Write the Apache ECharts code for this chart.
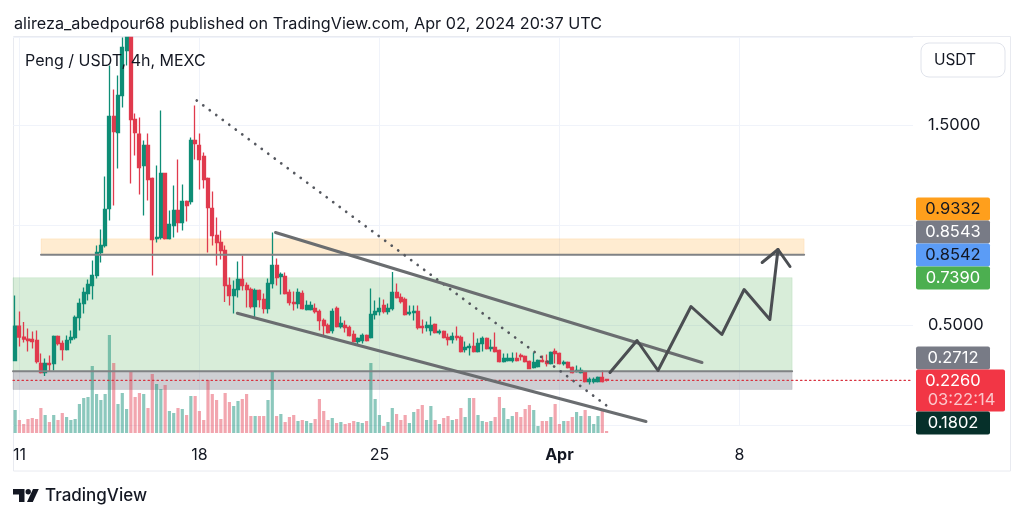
<!DOCTYPE html>
<html>
<head>
<meta charset="utf-8">
<style>
  html, body { margin: 0; background: #fff; }
  #chart { width: 1024px; height: 518px; }
</style>
<script src="https://cdn.jsdelivr.net/npm/echarts@6/dist/echarts.min.js"></script>
</head>
<body>
<div id="chart"></div>
<script>
// 4h candles, Mar 10 20:00 .. Apr 2 20:00 (tops above the pane stop at its edge)
const opens = [
  .325,.497,.442,.432,.43,.425,.31,.265,.31,.31,
  .445,.41,.38,.43,.44,.54,.61,.66,.70,.75,
  .865,.90,1.085,1.545,1.465,1.65,1.875,1.94,1.53,1.457,
  1.30,1.40,1.235,.935,.94,1.26,.935,1.0,1.075,1.015,
  1.12,1.12,1.425,1.40,1.345,1.235,1.085,.95,.915,.875,
  .70,.65,.68,.73,.70,.68,.595,.675,.63,.585,
  .71,.80,.745,.745,.665,.615,.61,.66,.58,.58,
  .585,.57,.525,.50,.475,.585,.495,.50,.49,.455,
  .42,.425,.45,.44,.555,.57,.60,.57,.585,.665,
  .64,.63,.56,.565,.57,.495,.49,.475,.505,.465,
  .47,.44,.43,.445,.44,.38,.39,.395,.37,.41,
  .435,.385,.39,.375,.32,.325,.325,.335,.35,.345,
  .32,.29,.295,.325,.32,.31,.37,.36,.31,.315,
  .29,.27,.265,.265,.22,.22,.22,.24,.23
];
const closes = [
  .497,.442,.432,.425,.42,.32,.265,.31,.305,.445,
  .41,.38,.425,.44,.54,.61,.665,.705,.75,.865,
  .90,1.08,1.545,1.47,1.65,1.89,1.94,1.53,1.465,1.29,
  1.40,1.23,.93,.94,1.26,.935,1.005,1.075,1.015,1.12,
  1.10,1.425,1.41,1.33,1.23,1.09,.95,.915,.875,.70,
  .65,.68,.73,.70,.68,.595,.675,.63,.585,.71,
  .80,.74,.755,.66,.615,.61,.665,.585,.60,.60,
  .57,.525,.50,.465,.57,.495,.51,.49,.45,.42,
  .435,.45,.425,.555,.57,.585,.57,.585,.665,.64,
  .62,.555,.565,.57,.49,.49,.50,.50,.465,.47,
  .44,.43,.445,.44,.37,.39,.395,.37,.41,.435,
  .385,.39,.37,.32,.335,.335,.335,.325,.345,.32,
  .285,.315,.325,.32,.31,.365,.36,.31,.315,.29,
  .265,.275,.275,.22,.23,.23,.24,.22,.226
];
const highs = [
  .65,.57,.517,.485,.47,.475,.36,.335,.35,.45,
  .45,.425,.45,.475,.55,.635,.69,.73,.825,.90,
  .98,1.245,1.80,1.68,1.75,1.94,1.94,1.94,1.56,1.54,
  1.425,1.46,1.24,1.30,1.575,1.26,1.075,1.20,1.33,1.205,
  1.125,1.44,1.60,1.46,1.365,1.24,1.17,1.04,.975,.90,
  .74,.725,.82,.85,.715,.69,.685,.68,.66,.735,
  .965,.835,.765,.765,.68,.67,.685,.675,.625,.62,
  .61,.58,.535,.51,.585,.595,.545,.525,.50,.475,
  .44,.46,.455,.685,.625,.64,.63,.61,.767,.71,
  .66,.64,.60,.60,.60,.53,.52,.545,.51,.48,
  .475,.46,.465,.495,.45,.42,.41,.465,.435,.445,
  .44,.43,.465,.38,.36,.36,.365,.365,.36,.35,
  .325,.365,.33,.35,.355,.37,.385,.365,.325,.32,
  .295,.30,.29,.27,.24,.24,.245,.275,.23
];
const lows = [
  .325,.395,.415,.37,.385,.31,.26,.247,.27,.275,
  .40,.325,.375,.41,.43,.475,.56,.625,.63,.735,
  .815,.89,1.025,1.10,1.285,1.59,1.8,1.21,1.35,1.155,
  1.05,1.125,.75,.915,.93,.93,.93,.94,.965,.975,
  1.02,1.105,1.33,1.18,1.185,.865,.90,.80,.83,.617,
  .60,.56,.64,.675,.59,.585,.54,.59,.56,.56,
  .685,.70,.655,.655,.60,.575,.585,.58,.575,.575,
  .56,.475,.45,.46,.46,.49,.485,.465,.445,.415,
  .405,.41,.42,.435,.53,.55,.56,.555,.575,.635,
  .61,.55,.55,.525,.48,.46,.47,.45,.46,.455,
  .435,.40,.41,.425,.365,.365,.35,.365,.365,.37,
  .38,.37,.365,.315,.315,.32,.315,.32,.325,.315,
  .285,.285,.29,.315,.295,.305,.31,.305,.30,.285,
  .26,.265,.26,.215,.205,.21,.215,.215,.22
];
const volumes = [
  23,13,9,14,15,14,25,18,11,18,
  13,20,16,13,14,29,35,36,67,39,
  33,39,98,70,29,40,24,62,36,40,
  39,25,59,49,44,48,22,20,25,24,
  18,37,37,22,13,53,39,33,14,40,
  31,27,32,34,39,17,17,17,17,33,
  62,17,19,11,16,18,12,13,12,10,
  14,34,22,13,15,10,11,9,10,12,
  11,10,12,70,34,18,7,11,25,19,
  13,18,10,21,24,28,13,27,13,9,
  15,17,13,14,25,16,35,35,18,12,
  11,12,16,36,25,14,17,21,16,24,
  28,23,7,12,12,16,29,9,12,12,
  16,21,17,23,17,9,17,23,2
];

// time axis: 210 four hour slots, week ticks
const slotCount = 210;
const tickSlots = [1, 43, 85, 127, 169];
const tickLabels = ['11', '18', '25', 'Apr', '8'];

// price axis labels that are shown
const priceLabels = [1.5, 0.5];
const lastPrice = 0.226;

// user drawings, [slot, price]
const dottedTrend = [[42.37, 1.625], [138.3, 0.095]];
const upperChannel = [[60.75, 0.965], [160.27, 0.315]];
const lowerChannel = [[51.84, 0.5615], [147.2, 0.02]];
const forecastPath = [[138.8, 0.265], [145.1, 0.425], [150, 0.275], [157.7, 0.595], [164.9, 0.455], [170.1, 0.68], [176.1, 0.53], [178, 0.88]];
const forecastHead = [[174.3, 0.815], [178, 0.88], [180.8, 0.795]];

// zones: [slot from, slot to, price top, price bottom]
const orangeZone = [6.04, 184.1, 0.9332, 0.8543];
const greenZone = [-0.5, 181.3, 0.7390, 0.2712];
const greyZone = [-0.5, 181.3, 0.2712, 0.1802];

// price scale tags
const tagTexts = ['0.9332', '0.8543', '0.8542', '0.7390', '0.2712', '0.2260', '0.1802'];
const tagFills = ['#ff9f1c', '#787b86', '#5b9cf6', '#4caf50', '#787b86', '#f23645', '#06302a'];
const tagInks = ['#131722', '#fff', '#131722', '#fff', '#fff', '#fff', '#fff'];
const tagTops = [197.5, 220.5, 243.5, 266.5, 346.5, 369.5, 411.5];
const countdown = '03:22:14';

const UP = '#0e8d76';
const DOWN = '#e03a4d';
const FONT = 'Inter, "Noto Sans", sans-serif';
const GRID_LINE = '#f0f3fa';
const DRAW = '#6a6d70';

const candles = opens.map((o, i) => [o, closes[i], lows[i], highs[i]]);
const volumeBars = volumes.map((v, i) => ({
  value: v,
  itemStyle: { color: closes[i] >= opens[i] ? 'rgba(14,141,118,0.48)' : 'rgba(226,58,78,0.45)' }
}));
const slots = [];
for (let i = 0; i < slotCount; i++) slots.push(String(i));

function drawing(data, color, width, type) {
  return {
    type: 'line', xAxisIndex: 2, yAxisIndex: 0, data: data, symbol: 'none', silent: true, z: 5,
    lineStyle: { color: color, width: width, type: type || 'solid', cap: 'round', join: 'round' }
  };
}

function zoneArea(zone, fill, border) {
  return [{
    xAxis: zone[0], yAxis: zone[2],
    itemStyle: { color: fill, borderColor: border, borderWidth: 1 }
  }, { xAxis: zone[1], yAxis: zone[3] }];
}

const tagGraphics = [];
tagTexts.forEach((t, i) => {
  const isLast = t === '0.2260';
  tagGraphics.push({
    type: 'rect', z: 20,
    shape: { x: 916, y: tagTops[i], width: isLast ? 89 : 74, height: isLast ? 42 : 23, r: 2 },
    style: { fill: tagFills[i] }
  });
  tagGraphics.push({
    type: 'text', z: 21, x: 953, y: tagTops[i] + 11.5,
    style: { text: t, fill: tagInks[i], font: '16.5px ' + FONT, align: 'center', verticalAlign: 'middle' }
  });
  if (isLast) {
    tagGraphics.push({
      type: 'text', z: 21, x: 961.5, y: tagTops[i] + 31,
      style: { text: countdown, fill: 'rgba(255,255,255,0.72)', font: '16.5px ' + FONT, align: 'center', verticalAlign: 'middle' }
    });
  }
});

const chart = echarts.init(document.getElementById('chart'), null, { renderer: 'canvas' });
chart.setOption({
  animation: false,
  backgroundColor: '#fff',
  textStyle: { fontFamily: FONT },
  grid: [
    { left: 13, width: 900, top: 37.5, height: 388 },
    { left: 13, width: 900, top: 333, height: 100 }
  ],
  xAxis: [
    {
      type: 'category', gridIndex: 0, data: slots, boundaryGap: true,
      axisLine: { show: false }, axisTick: { show: false },
      splitLine: {
        show: true, alignWithLabel: true,
        interval: (i) => tickSlots.includes(i),
        lineStyle: { color: GRID_LINE, width: 1 }
      },
      axisLabel: {
        margin: 22, fontSize: 16, color: '#131722',
        interval: (i) => tickSlots.includes(i),
        formatter: (v) => {
          const lbl = tickLabels[tickSlots.indexOf(Number(v))];
          return lbl === 'Apr' ? '{b|Apr}' : lbl;
        },
        rich: { b: { fontWeight: 'bold', fontSize: 16, color: '#131722', fontFamily: FONT } }
      }
    },
    {
      type: 'category', gridIndex: 1, data: slots, boundaryGap: true,
      axisLine: { show: false }, axisTick: { show: false }, axisLabel: { show: false }, splitLine: { show: false }
    },
    { type: 'value', gridIndex: 0, min: -0.5, max: slotCount - 0.5, show: false, splitLine: { show: false } }
  ],
  yAxis: [
    {
      type: 'value', gridIndex: 0, position: 'right', min: 0, max: 1.94, interval: 0.5,
      axisLine: { show: false }, axisTick: { show: false },
      splitLine: { show: true, lineStyle: { color: GRID_LINE, width: 1 } },
      axisLabel: {
        margin: 15, fontSize: 16.5, color: '#131722', showMaxLabel: false,
        formatter: (v) => priceLabels.includes(v) ? v.toFixed(4) : ''
      }
    },
    { type: 'value', gridIndex: 1, min: 0, max: 100, show: false, splitLine: { show: false } }
  ],
  series: [
    {
      type: 'line', xAxisIndex: 2, yAxisIndex: 0, data: [], symbol: 'none', silent: true, z: 1,
      markArea: {
        silent: true,
        data: [
          zoneArea(greenZone, 'rgba(76,175,80,0.22)', 'rgba(76,175,80,0.12)'),
          zoneArea(greyZone, 'rgba(120,123,134,0.36)', 'rgba(120,123,134,0.2)'),
          zoneArea(orangeZone, 'rgba(255,152,0,0.18)', 'rgba(255,152,0,0.1)')
        ]
      }
    },
    {
      type: 'bar', xAxisIndex: 1, yAxisIndex: 1, data: volumeBars, barWidth: 3.2, silent: true, z: 2
    },
    drawing([[orangeZone[0], orangeZone[3]], [orangeZone[1], orangeZone[3]]], '#808285', 2),
    drawing([[greyZone[0], greyZone[2]], [greyZone[1], greyZone[2]]], '#808285', 2),
    Object.assign(drawing([[-0.5, lastPrice], [slotCount - 0.5, lastPrice]], '#d8323f', 1.2, [1.5, 3]), { z: 3 }),
    {
      type: 'candlestick', xAxisIndex: 0, yAxisIndex: 0, data: candles, barWidth: 3.6, silent: true, z: 4,
      itemStyle: { color: UP, color0: DOWN, borderColor: UP, borderColor0: DOWN, borderWidth: 1.3 }
    },
    drawing(dottedTrend, '#55585f', 2.7, [0.1, 8]),
    drawing(upperChannel, DRAW, 3),
    drawing(lowerChannel, DRAW, 3),
    drawing(forecastPath, '#4b4e52', 3),
    drawing(forecastHead, '#4b4e52', 3)
  ],
  graphic: [
    { type: 'rect', z: 0, shape: { x: 13.5, y: 36.5, width: 997, height: 434.5 }, style: { fill: 'none', stroke: '#e8eaf0', lineWidth: 1 } },
    { type: 'text', z: 20, x: 14, y: 24, style: { text: 'alireza_abedpour68 published on TradingView.com, Apr 02, 2024 20:37 UTC', fill: '#131722', font: '16.2px ' + FONT, verticalAlign: 'middle' } },
    { type: 'text', z: 20, x: 25, y: 61, style: { text: 'Peng / USDT, 4h, MEXC', fill: '#131722', font: '16px ' + FONT, verticalAlign: 'middle' } },
    { type: 'rect', z: 20, shape: { x: 921, y: 43, width: 84, height: 34, r: 8 }, style: { fill: '#fff', stroke: '#e0e3eb', lineWidth: 1 } },
    { type: 'text', z: 21, x: 955, y: 60, style: { text: 'USDT', fill: '#131722', font: '15.5px ' + FONT, align: 'center', verticalAlign: 'middle' } }
  ].concat(tagGraphics).concat([
    // TradingView mark
    { type: 'polygon', z: 20, shape: { points: [[13, 489], [24.5, 489], [24.5, 502], [19, 502], [19, 494.5], [13, 494.5]] }, style: { fill: '#131722' } },
    { type: 'circle', z: 20, shape: { cx: 28.2, cy: 491.8, r: 2.7 }, style: { fill: '#131722' } },
    { type: 'polygon', z: 20, shape: { points: [[33, 489], [38.8, 489], [32.8, 502], [27, 502]] }, style: { fill: '#131722' } },
    { type: 'text', z: 20, x: 45, y: 496, style: { text: 'TradingView', fill: '#131722', font: '500 17px ' + FONT, verticalAlign: 'middle' } }
  ])
});
</script>
</body>
</html>
